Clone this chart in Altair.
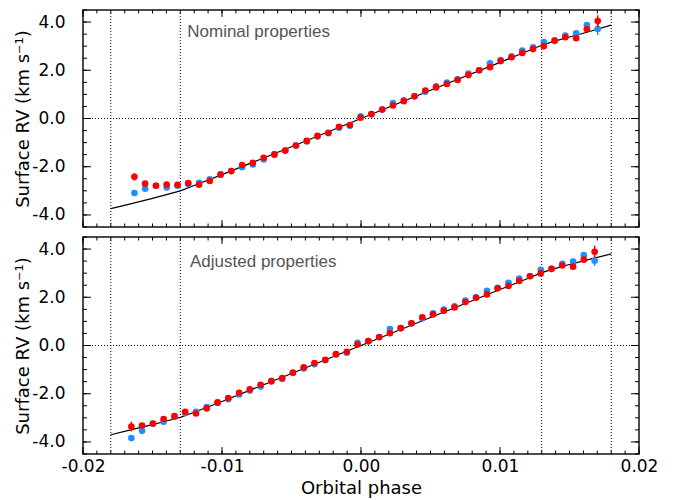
import altair as alt
import pandas as pd

# ---------------- data ----------------
phase_top = [-0.0163, -0.01553, -0.01475, -0.01398, -0.0132, -0.01243, -0.01165, -0.01088,
             -0.0101, -0.00933, -0.00855, -0.00778, -0.007, -0.00623, -0.00545, -0.00468,
             -0.0039, -0.00313, -0.00235, -0.00158, -0.0008, -0.00003, 0.00075, 0.00153,
             0.0023, 0.00308, 0.00385, 0.00463, 0.0054, 0.00618, 0.00695, 0.00773,
             0.0085, 0.00928, 0.01005, 0.01083, 0.0116, 0.01238, 0.01315, 0.01393,
             0.0147, 0.01548, 0.01625, 0.01703]
red_top = [-2.42, -2.70, -2.79, -2.74, -2.75, -2.68, -2.75, -2.59, -2.33, -2.18, -1.93, -1.84,
           -1.63, -1.50, -1.33, -1.12, -0.93, -0.72, -0.59, -0.34, -0.27, 0.03, 0.18, 0.37,
           0.54, 0.72, 0.92, 1.16, 1.29, 1.43, 1.60, 1.80, 2.00, 2.13, 2.38, 2.54, 2.72,
           2.88, 3.00, 3.22, 3.37, 3.33, 3.70, 4.04]
blue_top = [-3.09, -2.91, -2.79, -2.86, -2.79, -2.72, -2.67, -2.52, -2.31, -2.18, -2.02, -1.91,
            -1.70, -1.47, -1.33, -1.12, -0.95, -0.75, -0.61, -0.38, -0.30, 0.09, 0.18, 0.37,
            0.64, 0.75, 0.92, 1.11, 1.33, 1.49, 1.63, 1.86, 2.00, 2.29, 2.42, 2.58, 2.82,
            2.95, 3.17, 3.24, 3.44, 3.53, 3.88, 3.71]
red_top_err = [0.15, 0.1, 0.08, 0.08, 0.08, 0.08, 0.08, 0.08, 0.08, 0.08, 0.08, 0.08,
               0.08, 0.08, 0.08, 0.08, 0.08, 0.08, 0.08, 0.08, 0.08, 0.08, 0.08, 0.08,
               0.08, 0.08, 0.08, 0.08, 0.08, 0.08, 0.08, 0.08, 0.08, 0.08, 0.08, 0.08,
               0.08, 0.08, 0.08, 0.08, 0.08, 0.1, 0.12, 0.24]
blue_top_err = [0.1, 0.08, 0.08, 0.08, 0.08, 0.08, 0.08, 0.08, 0.08, 0.08, 0.08, 0.08,
                0.08, 0.08, 0.08, 0.08, 0.08, 0.08, 0.08, 0.08, 0.08, 0.08, 0.08, 0.08,
                0.08, 0.08, 0.08, 0.08, 0.08, 0.08, 0.08, 0.08, 0.08, 0.08, 0.08, 0.08,
                0.08, 0.08, 0.08, 0.08, 0.08, 0.1, 0.12, 0.25]

phase_bot = [-0.01652, -0.01575, -0.01497, -0.0142, -0.01342, -0.01265, -0.01187, -0.0111,
             -0.01032, -0.00955, -0.00877, -0.008, -0.00722, -0.00645, -0.00567, -0.0049,
             -0.00412, -0.00335, -0.00257, -0.0018, -0.00102, -0.00025, 0.00053, 0.00131,
             0.00208, 0.00286, 0.00363, 0.00441, 0.00518, 0.00596, 0.00673, 0.00751,
             0.00828, 0.00906, 0.00983, 0.01061, 0.01138, 0.01216, 0.01293, 0.01371,
             0.01448, 0.01526, 0.01603, 0.01681]
red_bot = [-3.36, -3.32, -3.24, -3.05, -2.93, -2.75, -2.82, -2.61, -2.36, -2.18, -1.96, -1.82,
           -1.63, -1.49, -1.35, -1.12, -0.91, -0.73, -0.59, -0.36, -0.26, 0.04, 0.18, 0.35,
           0.51, 0.72, 0.92, 1.17, 1.29, 1.44, 1.58, 1.80, 1.98, 2.12, 2.37, 2.47, 2.68,
           2.87, 2.99, 3.18, 3.32, 3.27, 3.56, 3.89]
blue_bot = [-3.84, -3.54, -3.25, -3.16, -2.95, -2.80, -2.75, -2.55, -2.38, -2.23, -2.03, -1.87,
            -1.70, -1.46, -1.39, -1.14, -0.95, -0.78, -0.61, -0.37, -0.30, 0.11, 0.18, 0.34,
            0.68, 0.72, 0.92, 1.13, 1.33, 1.49, 1.63, 1.86, 2.00, 2.27, 2.39, 2.60, 2.78,
            2.88, 3.14, 3.18, 3.39, 3.48, 3.75, 3.52]
red_bot_err = [0.2, 0.1, 0.08, 0.08, 0.08, 0.08, 0.08, 0.08, 0.08, 0.08, 0.08, 0.08,
               0.08, 0.08, 0.08, 0.08, 0.08, 0.08, 0.08, 0.08, 0.08, 0.08, 0.08, 0.08,
               0.08, 0.08, 0.08, 0.08, 0.08, 0.08, 0.08, 0.08, 0.08, 0.08, 0.08, 0.08,
               0.08, 0.08, 0.08, 0.08, 0.08, 0.1, 0.12, 0.25]
blue_bot_err = [0.12, 0.08, 0.08, 0.08, 0.08, 0.08, 0.08, 0.08, 0.08, 0.08, 0.08, 0.08,
                0.08, 0.08, 0.08, 0.08, 0.08, 0.08, 0.08, 0.08, 0.08, 0.08, 0.08, 0.08,
                0.08, 0.08, 0.08, 0.08, 0.08, 0.08, 0.08, 0.08, 0.08, 0.08, 0.08, 0.08,
                0.08, 0.08, 0.08, 0.08, 0.08, 0.1, 0.12, 0.22]

model_phase = [-0.018, -0.0165, -0.015, -0.014, -0.013, -0.012, -0.01, -0.005, 0.0,
               0.005, 0.01, 0.012, 0.013, 0.014, 0.015, 0.0165, 0.018]
model_top = [-3.74, -3.53, -3.31, -3.16, -3.00, -2.78, -2.33, -1.17, 0.0,
             1.17, 2.33, 2.80, 3.04, 3.22, 3.38, 3.62, 3.87]
model_bot = [-3.70, -3.49, -3.28, -3.13, -2.98, -2.77, -2.32, -1.16, 0.0,
             1.16, 2.32, 2.78, 3.02, 3.20, 3.36, 3.58, 3.80]

contact_phases = [-0.018, -0.013, 0.013, 0.018]
x_major = [-0.02, -0.01, 0.0, 0.01, 0.02]
y_major = [-4.0, -2.0, 0.0, 2.0, 4.0]
x_minor = [round(-0.02 + 0.001 * i, 4) for i in range(41)]
y_minor = [-4.5 + 0.5 * i for i in range(19)]

labels = ["Nominal properties", "Adjusted properties"]

# ---------------- styling ----------------
W, H = 556, 217
BLUE = "#1E90FF"
RED = "#FF0000"
FONT = "DejaVu Sans"

xs = alt.Scale(domain=[-0.02, 0.02], nice=False, zero=False)
ys = alt.Scale(domain=[-4.5, 4.5], nice=False, zero=False)


def panel(phase, red, red_err, blue, blue_err, model_y, label, label_x, label_y, bottom):
    pts = pd.DataFrame({"phase": phase, "red": red, "blue": blue})
    pts["red_lo"] = [v - e for v, e in zip(red, red_err)]
    pts["red_hi"] = [v + e for v, e in zip(red, red_err)]
    pts["blue_lo"] = [v - e for v, e in zip(blue, blue_err)]
    pts["blue_hi"] = [v + e for v, e in zip(blue, blue_err)]

    if bottom:
        xaxis = alt.Axis(values=x_major,
                         labelExpr="datum.value < 0 ? '-' + format(-datum.value, '.2f') : format(datum.value, '.2f')",
                         ticks=False, tickSize=0, domain=False, grid=False, labelFlush=False,
                         labelFont=FONT, labelFontSize=17, labelColor="black", labelPadding=4,
                         title="Orbital phase", titleFont=FONT, titleFontSize=18,
                         titleFontWeight="normal", titleColor="black",
                         titleY=34, titleBaseline="middle")
    else:
        xaxis = alt.Axis(labels=False, ticks=False, tickSize=0, domain=False, grid=False, title="")
    yaxis = alt.Axis(values=y_major,
                     labelExpr="datum.value < 0 ? '-' + format(-datum.value, '.1f') : format(datum.value, '.1f')",
                     ticks=False, tickSize=0, domain=False, grid=False, labelFlush=False,
                     labelFont=FONT, labelFontSize=17, labelColor="black", labelPadding=18,
                     title="Surface RV (km s\u207b\u00b9)", titleFont=FONT, titleFontSize=18,
                     titleFontWeight="normal", titleColor="black",
                     titleX=-60, titleY=H / 2, titleBaseline="middle", titleAngle=270)

    def X(f):
        return alt.X(f, scale=xs, axis=xaxis)

    def Y(f):
        return alt.Y(f, scale=ys, axis=yaxis)

    # dotted guide lines
    vlines = alt.Chart(pd.DataFrame({"p": contact_phases})).mark_rule(
        color="black", strokeWidth=1, strokeDash=[1, 2]
    ).encode(x=X("p:Q"))
    hline = alt.Chart(pd.DataFrame({"v": [0.0]})).mark_rule(
        color="black", strokeWidth=1, strokeDash=[1, 2]
    ).encode(y=Y("v:Q"))

    model = alt.Chart(pd.DataFrame({"p": model_phase, "v": model_y})).mark_line(
        color="black", strokeWidth=1.2
    ).encode(x=X("p:Q"), y=Y("v:Q"))

    base = alt.Chart(pts)
    blue_err_l = base.mark_rule(color=BLUE, strokeWidth=1.5).encode(
        x=X("phase:Q"), y=Y("blue_lo:Q"), y2="blue_hi:Q")
    blue_pts = base.mark_circle(color=BLUE, size=44, opacity=1).encode(
        x=X("phase:Q"), y=Y("blue:Q"))
    red_err_l = base.mark_rule(color=RED, strokeWidth=1.5).encode(
        x=X("phase:Q"), y=Y("red_lo:Q"), y2="red_hi:Q")
    red_pts = base.mark_circle(color=RED, size=44, opacity=1).encode(
        x=X("phase:Q"), y=Y("red:Q"))

    text = alt.Chart(pd.DataFrame({"p": [label_x], "v": [label_y], "t": [label]})).mark_text(
        align="left", baseline="middle", font="Liberation Sans", fontSize=17, color="#555555"
    ).encode(x=X("p:Q"), y=Y("v:Q"), text="t:N")

    # inward ticks on all four sides
    def xt(vals, y0, y1):
        return alt.Chart(pd.DataFrame({"p": vals})).mark_rule(color="black", strokeWidth=1).encode(
            x=X("p:Q"), y=alt.value(y0), y2=alt.value(y1))

    def yt(vals, x0, x1):
        return alt.Chart(pd.DataFrame({"v": vals})).mark_rule(color="black", strokeWidth=1).encode(
            y=Y("v:Q"), x=alt.value(x0), x2=alt.value(x1))

    ticks = [
        xt(x_minor, H, H - 3.5), xt(x_major, H, H - 7),
        xt(x_minor, 0, 3.5), xt(x_major, 0, 7),
        yt(y_minor, 0, 4), yt(y_major, 0, 8),
        yt(y_minor, W, W - 4), yt(y_major, W, W - 8),
    ]

    return alt.layer(vlines, hline, model, blue_err_l, blue_pts, red_err_l, red_pts, text,
                     *ticks).properties(width=W, height=H)


top = panel(phase_top, red_top, red_top_err, blue_top, blue_top_err, model_top,
            labels[0], -0.0125, 3.6, False)
bot = panel(phase_bot, red_bot, red_bot_err, blue_bot, blue_bot_err, model_bot,
            labels[1], -0.0123, 3.45, True)

chart = alt.vconcat(top, bot, spacing=6).properties(
    padding={"left": 5, "top": 0, "right": 5, "bottom": 0}
).configure_view(stroke="#111111", strokeWidth=1.5)

chart.save("out.html", embed_options={"renderer": "svg", "actions": False})
